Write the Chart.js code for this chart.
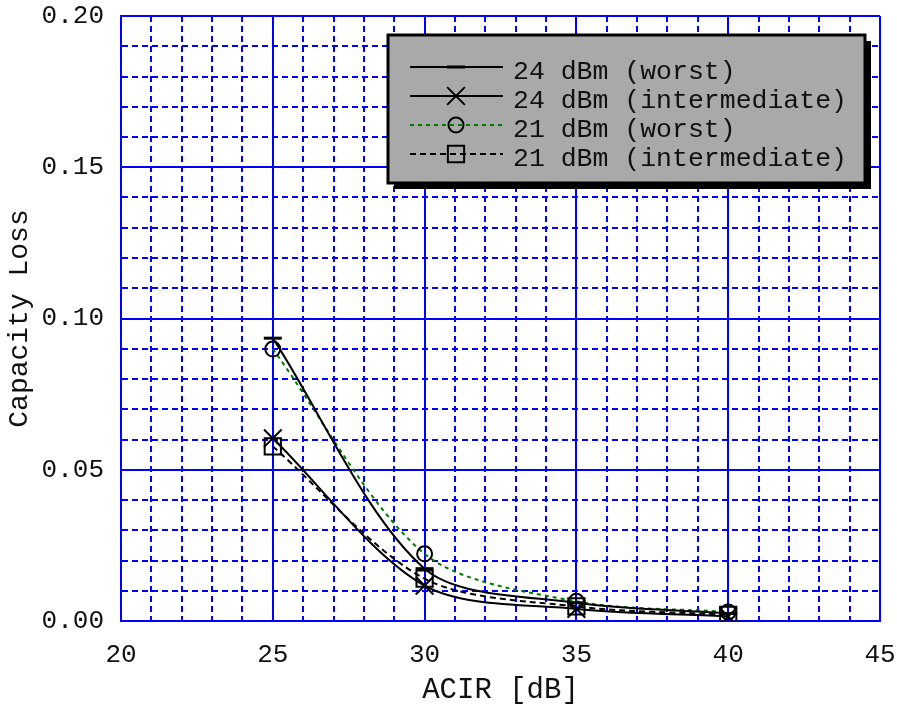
<!DOCTYPE html>
<html>
<head>
<meta charset="utf-8">
<script src="https://cdn.jsdelivr.net/npm/chart.js@4/dist/chart.umd.min.js"></script>
<style>
html, body { margin: 0; padding: 0; background: #fff; }
</style>
</head>
<body>
<canvas id="chart" width="897" height="705"></canvas>
<script>
// ACIR values where each series was simulated
const acir = [25, 30, 35, 40];

// capacity loss per series
const worst24 = [0.0935, 0.0173, 0.0060, 0.0025];
const inter24 = [0.0604, 0.0117, 0.0040, 0.0015];
const worst21 = [0.0899, 0.0222, 0.0065, 0.0030];
const inter21 = [0.0577, 0.0140, 0.0048, 0.0020];

const seriesNames = ['24 dBm (worst)', '24 dBm (intermediate)', '21 dBm (worst)', '21 dBm (intermediate)'];

const xTitle = 'ACIR [dB]';
const yTitle = 'Capacity Loss';

const MONO = "'Courier New', 'Liberation Mono', monospace";
const GRID_BLUE = '#0000ff';

function toPoints(ys) {
	return acir.map(function(x, i) { return { x: x, y: ys[i] }; });
}

function isMajorX(v) {
	return Math.abs(v / 5 - Math.round(v / 5)) < 1e-6;
}

function isMajorY(v) {
	return Math.abs(v / 0.05 - Math.round(v / 0.05)) < 1e-6;
}

// legend box drawn like the original: grey panel, black frame, drop shadow
const boxLegend = {
	id: 'boxLegend',
	afterDraw(chart) {
		const ctx = chart.ctx;
		const x = 388, y = 35, w = 477, h = 148;
		ctx.save();
		ctx.fillStyle = '#000';
		ctx.fillRect(x + 6, y + 6, w, h);
		ctx.fillStyle = '#a9a9a9';
		ctx.fillRect(x, y, w, h);
		ctx.lineWidth = 3;
		ctx.strokeStyle = '#000';
		ctx.strokeRect(x, y, w, h);

		chart.data.datasets.forEach(function(ds, i) {
			const ly = 67 + i * 29;
			ctx.save();
			ctx.strokeStyle = ds.borderColor;
			ctx.lineWidth = ds.borderWidth;
			ctx.setLineDash(ds.borderDash || []);
			ctx.beginPath();
			ctx.moveTo(410, ly);
			ctx.lineTo(503, ly);
			ctx.stroke();
			ctx.restore();

			ctx.save();
			ctx.setLineDash([]);
			ctx.strokeStyle = '#000';
			ctx.fillStyle = 'rgba(0,0,0,0)';
			ctx.lineWidth = ds.pointBorderWidth;
			Chart.helpers.drawPoint(ctx, {
				pointStyle: ds.pointStyle,
				radius: ds.pointRadius,
				rotation: 0,
				borderWidth: ds.pointBorderWidth
			}, 456, ly);
			ctx.restore();

			ctx.fillStyle = '#111';
			ctx.font = '26.5px ' + MONO;
			ctx.textAlign = 'left';
			ctx.textBaseline = 'alphabetic';
			ctx.fillText(ds.label, 513, ly + 12);
		});
		ctx.restore();
	}
};

function makeDataset(label, ys, color, dash, style, radius, pbw) {
	return {
		label: label,
		data: toPoints(ys),
		borderColor: color,
		borderWidth: 2,
		borderDash: dash,
		tension: 0.3,
		pointStyle: style,
		pointRadius: radius,
		pointHoverRadius: radius,
		pointBorderColor: '#000',
		pointBackgroundColor: 'rgba(0,0,0,0)',
		pointBorderWidth: pbw,
		fill: false
	};
}

const ctx = document.getElementById('chart').getContext('2d');
const chart = new Chart(ctx, {
	type: 'line',
	data: {
		datasets: [
			makeDataset(seriesNames[0], worst24, '#000', [], 'line', 9, 3),
			makeDataset(seriesNames[1], inter24, '#000', [], 'crossRot', 12.5, 2),
			makeDataset(seriesNames[2], worst21, '#007a00', [4, 4], 'circle', 7.5, 2),
			makeDataset(seriesNames[3], inter21, '#000', [6, 4], 'rect', 11.5, 2)
		]
	},
	options: {
		responsive: false,
		animation: false,
		devicePixelRatio: 1,
		layout: { padding: { top: 16, right: 17, left: 0, bottom: 0 } },
		plugins: {
			legend: { display: false },
			tooltip: { enabled: false }
		},
		scales: {
			x: {
				type: 'linear',
				min: 20,
				max: 45,
				afterFit: function(scale) {
					scale.height = 84;
					scale.paddingLeft = 0;
					scale.paddingRight = 0;
				},
				ticks: {
					stepSize: 1,
					autoSkip: false,
					maxTicksLimit: 100,
					maxRotation: 0,
					padding: 19,
					color: '#111',
					font: { family: MONO, size: 26 },
					callback: function(v) { return isMajorX(v) ? String(Math.round(v)) : ''; }
				},
				grid: {
					drawTicks: false,
					color: GRID_BLUE,
					lineWidth: 2
				},
				border: {
					color: GRID_BLUE,
					width: 2,
					dash: function(c) {
						if (!c.tick) return [];
						return isMajorX(c.tick.value) ? [] : [6, 4];
					}
				},
				title: {
					display: true,
					text: xTitle,
					color: '#111',
					font: { family: MONO, size: 29 },
					padding: { top: 0, bottom: -3 }
				}
			},
			y: {
				type: 'linear',
				min: 0,
				max: 0.2,
				afterFit: function(scale) {
					scale.width = 121;
					scale.paddingTop = 0;
					scale.paddingBottom = 0;
				},
				ticks: {
					stepSize: 0.01,
					autoSkip: false,
					maxTicksLimit: 100,
					padding: 17,
					color: '#111',
					font: { family: MONO, size: 26 },
					callback: function(v) { return isMajorY(v) ? v.toFixed(2) : ''; }
				},
				grid: {
					drawTicks: false,
					color: GRID_BLUE,
					lineWidth: 2
				},
				border: {
					color: GRID_BLUE,
					width: 2,
					dash: function(c) {
						if (!c.tick) return [];
						return isMajorY(c.tick.value) ? [] : [6, 4];
					}
				},
				title: {
					display: true,
					text: yTitle,
					color: '#111',
					font: { family: MONO, size: 28 },
					padding: { top: 3, bottom: 0 }
				}
			}
		}
	},
	plugins: [boxLegend]
});
</script>
</body>
</html>
